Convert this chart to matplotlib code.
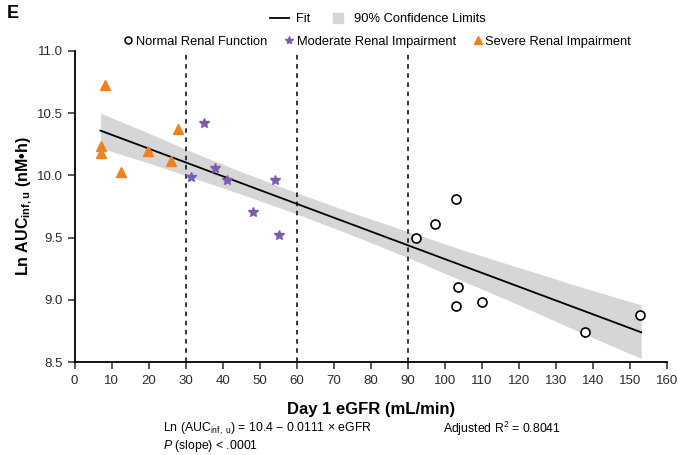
import numpy as np
import matplotlib.pyplot as plt
from matplotlib.lines import Line2D

plt.rcParams['font.family'] = ['Liberation Sans', 'DejaVu Sans']
plt.rcParams['mathtext.fontset'] = 'custom'
plt.rcParams['mathtext.rm'] = 'Liberation Sans'
plt.rcParams['mathtext.it'] = 'Liberation Sans:italic'

# DATA
severe_x = [8.2, 7.1, 7.1, 12.6, 19.9, 26.1, 28.0]
severe_y = [10.73, 10.24, 10.18, 10.03, 10.20, 10.12, 10.37]
moderate_x = [35.0, 31.4, 37.8, 41.2, 48.1, 54.2, 55.3]
moderate_y = [10.42, 9.99, 10.06, 9.96, 9.71, 9.96, 9.52]
normal_x = [92.3, 97.2, 103.1, 103.5, 103.1, 110.0, 137.8, 152.8]
normal_y = [9.50, 9.61, 9.81, 9.10, 8.95, 8.98, 8.74, 8.88]

fit_x = [7.0, 153.0]
fit_y = [10.36, 8.74]

band_x = [7, 20, 30, 45, 60, 75, 90, 105, 120, 135, 153]
band_lo = [10.22, 10.10, 10.00, 9.85, 9.69, 9.52, 9.34, 9.15, 8.96, 8.76, 8.53]
band_hi = [10.50, 10.34, 10.21, 10.03, 9.86, 9.70, 9.55, 9.40, 9.26, 9.12, 8.96]

cutoffs = [30, 60, 90]

xticks = np.arange(0, 161, 10)
yticks = [8.5, 9.0, 9.5, 10.0, 10.5, 11.0]

band_color = '#d5d6d8'
purple = '#7b5cb3'
orange = '#f0821e'

# PLOT
fig = plt.figure(figsize=(6.78, 4.55), dpi=100)
ax = fig.add_axes([0.110, 0.204, 0.874, 0.684])

ax.fill_between(band_x, band_lo, band_hi, color=band_color, lw=0, zorder=1)
ax.plot(fit_x, fit_y, color='black', lw=1.3, zorder=3)
for c in cutoffs:
    ax.plot([c, c], [8.5, 11.0], color='black', lw=1.1, ls=(0, (3, 3)), zorder=2)

ax.plot(normal_x, normal_y, 'o', ms=6.5, mfc='white', mec='black', mew=1.2, ls='none', zorder=4)
ax.plot(moderate_x, moderate_y, '*', ms=7.5, color=purple, ls='none', zorder=4)
ax.plot(severe_x, severe_y, '^', ms=6.5, color=orange, ls='none', zorder=4)

ax.set_xlim(0, 160)
ax.set_ylim(8.5, 11.0)
ax.set_xticks(xticks)
ax.set_yticks(yticks)
ax.set_yticklabels(['%.1f' % v for v in yticks])
ax.tick_params(direction='out', length=5, width=1.1, labelsize=9.5, colors='#2a2a2a')
ax.tick_params(axis='x', pad=4)
for s in ['top', 'right']:
    ax.spines[s].set_visible(False)
for s in ['left', 'bottom']:
    ax.spines[s].set_linewidth(1.3)

ax.set_xlabel('Day 1 eGFR (mL/min)', fontsize=12, fontweight='bold', labelpad=11)
ax.set_ylabel('Ln AUC$_{\\mathregular{inf,u}}$ (nM\u2022h)', fontsize=11.5, fontweight='bold', labelpad=2)

fig.text(0.010, 0.97, 'E', fontsize=13, fontweight='bold', va='center')

# legends
h1 = [Line2D([], [], color='black', lw=1.3),
      Line2D([], [], marker='s', ms=6.5, color=band_color, ls='none')]
fig.legend(h1, ['Fit', '90% Confidence Limits'], ncol=2, frameon=False,
           loc='center', bbox_to_anchor=(0.557, 0.958), fontsize=9.3,
           handlelength=1.5, columnspacing=1.4, handletextpad=0.5)
h2 = [Line2D([], [], marker='o', ms=5, mfc='white', mec='black', mew=1.1, ls='none'),
      Line2D([], [], marker='*', ms=6, color=purple, ls='none'),
      Line2D([], [], marker='^', ms=5.5, color=orange, ls='none')]
fig.legend(h2, ['Normal Renal Function', 'Moderate Renal Impairment', 'Severe Renal Impairment'],
           ncol=3, frameon=False, loc='center', bbox_to_anchor=(0.557, 0.908), fontsize=9.3,
           handlelength=0.6, columnspacing=1.4, handletextpad=0.3)

fig.text(0.240, 0.058, 'Ln (AUC$_{\\mathregular{inf,\\ u}}$) = 10.4 \u2212 0.0111 \u00d7 eGFR', fontsize=8.8, va='center')
fig.text(0.240, 0.019, '$\\mathit{P}$ (slope) < .0001', fontsize=8.8, va='center')
fig.text(0.653, 0.058, 'Adjusted R$^{\\mathregular{2}}$ = 0.8041', fontsize=8.8, va='center')

plt.savefig('out.png', dpi=100)
